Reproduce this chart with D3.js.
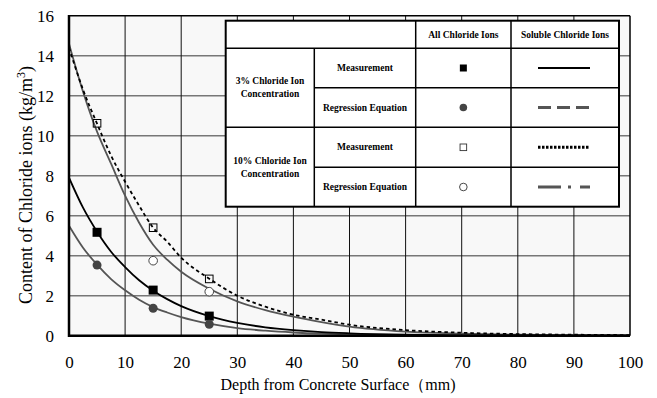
<!DOCTYPE html>
<html><head><meta charset="utf-8">
<script src="https://cdn.jsdelivr.net/npm/d3@7"></script>
<style>
html,body{margin:0;padding:0;background:#fff;}
svg text{font-family:"Liberation Serif","DejaVu Serif",serif !important;fill:#000;}
</style></head>
<body>
<svg id="chart" width="657" height="398" font-family="Liberation Serif"></svg>
<script>
// ---- data ----
const depthTicks = [0,10,20,30,40,50,60,70,80,90,100];
const contentTicks = [0,2,4,6,8,10,12,14,16];
const measureDepths = [5,15,25];
const all3Measured = [5.17,2.28,0.98];
const all3Regression = [3.53,1.37,0.57];
const all10Measured = [10.62,5.40,2.84];
const reg10Depths = [15,25];
const all10Regression = [3.75,2.20];
const curveDepths = [0,2.5,5,7.5,10,12.5,15,17.5,20,25,30,35,40,45,50,60,70,80,90,100];
const sol3Measured = [7.9,6.4,5.2,4.2,3.43,2.77,2.25,1.83,1.48,0.98,0.64,0.42,0.28,0.18,0.12,0.05,0.02,0.01,0.005,0];
const sol3Regression = [5.5,4.4,3.55,2.83,2.27,1.8,1.43,1.16,0.93,0.6,0.38,0.25,0.16,0.1,0.065,0.03,0.01,0.005,0,0];
const sol10Measured = [14.4,12.3,10.6,9.0,7.7,6.5,5.4,4.7,3.9,2.85,2.0,1.45,1.05,0.8,0.55,0.28,0.15,0.08,0.05,0.03];
const sol10Regression = [14.6,12.2,10.2,8.6,7.0,5.65,4.55,3.8,3.2,2.35,1.72,1.28,0.95,0.68,0.45,0.2,0.1,0.05,0.03,0.02];
const legendHeaders = ["All Chloride Ions","Soluble Chloride Ions"];
const legendGroups = [["3% Chloride Ion","Concentration"],["10% Chloride Ion","Concentration"]];
const legendRows = ["Measurement","Regression Equation","Measurement","Regression Equation"];

// ---- layout ----
const FONT = "Liberation Serif";
const svg = d3.select("#chart");
const L = 69, R = 630, T = 15.7, B = 335.7;
const x = d3.scaleLinear().domain([0,100]).range([L,R]);
const y = d3.scaleLinear().domain([0,16]).range([B,T]);

svg.append("rect").attr("x",L).attr("y",T).attr("width",R-L).attr("height",B-T).attr("fill","#f8f8f8");

// gridlines
svg.append("g").selectAll("line").data(contentTicks.filter(d=>d>0&&d<16)).join("line")
  .attr("x1",L).attr("x2",R).attr("y1",d=>y(d)).attr("y2",d=>y(d))
  .attr("stroke","#777").attr("stroke-width",1.6);
svg.append("g").selectAll("line").data(depthTicks.filter(d=>d>0&&d<100)).join("line")
  .attr("y1",T).attr("y2",B).attr("x1",d=>x(d)).attr("x2",d=>x(d))
  .attr("stroke","#111").attr("stroke-width",1);

// axes (labels only)
const xAxis = svg.append("g").attr("transform",`translate(0,${B})`)
  .call(d3.axisBottom(x).tickValues(depthTicks).tickSize(0).tickPadding(20));
xAxis.attr("font-family",FONT);
xAxis.select(".domain").remove();
xAxis.selectAll("text").attr("font-size",17).attr("font-family",FONT);
const yAxis = svg.append("g").attr("transform",`translate(${L},0)`)
  .call(d3.axisLeft(y).tickValues(contentTicks).tickSize(0).tickPadding(15));
yAxis.attr("font-family",FONT);
yAxis.select(".domain").remove();
yAxis.selectAll("text").attr("font-size",17).attr("font-family",FONT);

// curves
svg.append("clipPath").attr("id","pa").append("rect")
  .attr("x",L).attr("y",T).attr("width",R-L).attr("height",B-T);
const line = d3.line().x(d=>x(d[0])).y(d=>y(d[1])).curve(d3.curveMonotoneX);
const curves = [
  {v:sol10Regression, c:"#555", dash:null},
  {v:sol3Regression, c:"#555", dash:null},
  {v:sol3Measured, c:"#000", dash:null},
  {v:sol10Measured, c:"#000", dash:"3.5,3"}
];
const cg = svg.append("g").attr("clip-path","url(#pa)");
curves.forEach(s=>{
  cg.append("path").attr("d",line(curveDepths.map((d,i)=>[d,s.v[i]])))
    .attr("fill","none").attr("stroke",s.c).attr("stroke-width",1.8)
    .attr("stroke-dasharray",s.dash);
});

// markers
const mg = svg.append("g");
mg.selectAll(".fs").data(measureDepths.map((d,i)=>[d,all3Measured[i]])).join("rect")
  .attr("x",d=>x(d[0])-4.5).attr("y",d=>y(d[1])-4.5).attr("width",9).attr("height",9).attr("fill","#000");
mg.selectAll(".fc").data(measureDepths.map((d,i)=>[d,all3Regression[i]])).join("circle")
  .attr("cx",d=>x(d[0])).attr("cy",d=>y(d[1])).attr("r",4.5).attr("fill","#444");
mg.selectAll(".os").data(measureDepths.map((d,i)=>[d,all10Measured[i]])).join("rect")
  .attr("x",d=>x(d[0])-3.8).attr("y",d=>y(d[1])-3.8).attr("width",7.6).attr("height",7.6)
  .attr("fill","none").attr("stroke","#000").attr("stroke-width",1);
mg.selectAll(".oc").data(reg10Depths.map((d,i)=>[d,all10Regression[i]])).join("circle")
  .attr("cx",d=>x(d[0])).attr("cy",d=>y(d[1])).attr("r",4.3)
  .attr("fill","#fff").attr("stroke","#444").attr("stroke-width",1);

// frame
svg.append("line").attr("x1",L).attr("x2",R).attr("y1",T).attr("y2",T).attr("stroke","#000").attr("stroke-width",1.5);
svg.append("line").attr("x1",R).attr("x2",R).attr("y1",T).attr("y2",B).attr("stroke","#000").attr("stroke-width",1.5);
svg.append("line").attr("x1",L).attr("x2",L).attr("y1",T-0.7).attr("y2",B+1.2).attr("stroke","#000").attr("stroke-width",2.5);
svg.append("line").attr("x1",L).attr("x2",R).attr("y1",B).attr("y2",B).attr("stroke","#000").attr("stroke-width",2.5);

// axis titles
svg.append("text").attr("x",338).attr("y",390).attr("text-anchor","middle").attr("font-size",16)
  .attr("font-family",FONT).text("Depth from Concrete Surface（mm)");
const yt = svg.append("text").attr("transform","translate(32,185) rotate(-90)").attr("text-anchor","middle")
  .attr("font-size",18).attr("font-family",FONT);
yt.append("tspan").text("Content of Chloride ions (kg/m");
yt.append("tspan").attr("dy",-7).attr("font-size",12).text("3");
yt.append("tspan").attr("dy",7).text(")");

// legend table
const colX = [225.7,314.3,415.7,511,619];
const rowY = [20.7,48.3,87.7,127.3,167.3,206.7];
const lg = svg.append("g");
lg.append("rect").attr("x",colX[0]).attr("y",rowY[0]).attr("width",colX[4]-colX[0]).attr("height",rowY[5]-rowY[0])
  .attr("fill","#fff").attr("stroke","#000").attr("stroke-width",2);
const seg = (x1,y1,x2,y2)=>lg.append("line").attr("x1",x1).attr("y1",y1).attr("x2",x2).attr("y2",y2).attr("stroke","#000").attr("stroke-width",1.5);
seg(colX[0],rowY[1],colX[4],rowY[1]);
seg(colX[1],rowY[2],colX[4],rowY[2]);
seg(colX[0],rowY[3],colX[4],rowY[3]);
seg(colX[1],rowY[4],colX[4],rowY[4]);
seg(colX[1],rowY[1],colX[1],rowY[5]);
seg(colX[2],rowY[0],colX[2],rowY[5]);
seg(colX[3],rowY[0],colX[3],rowY[5]);
const tt = (tx,ty,s)=>lg.append("text").attr("x",tx).attr("y",ty).attr("text-anchor","middle")
  .attr("dominant-baseline","central").attr("font-size",9.5).attr("font-weight","bold").attr("font-family",FONT).text(s);
legendHeaders.forEach((h,i)=>tt((colX[2+i]+colX[3+i])/2,(rowY[0]+rowY[1])/2,h));
legendGroups.forEach((g,i)=>{
  const cy = (rowY[1+2*i]+rowY[3+2*i])/2;
  tt((colX[0]+colX[1])/2,cy-6.5,g[0]);
  tt((colX[0]+colX[1])/2,cy+6.5,g[1]);
});
legendRows.forEach((r,i)=>tt((colX[1]+colX[2])/2,(rowY[1+i]+rowY[2+i])/2,r));
const sx = (colX[2]+colX[3])/2, lx1 = 538, lx2 = 590;
const cyRow = i=>(rowY[1+i]+rowY[2+i])/2;
lg.append("rect").attr("x",sx-3.5).attr("y",cyRow(0)-3.5).attr("width",7).attr("height",7).attr("fill","#000");
lg.append("circle").attr("cx",sx).attr("cy",cyRow(1)).attr("r",3.8).attr("fill","#444");
lg.append("rect").attr("x",sx-3.3).attr("y",cyRow(2)-3.3).attr("width",6.6).attr("height",6.6).attr("fill","none").attr("stroke","#333").attr("stroke-width",0.9);
lg.append("circle").attr("cx",sx).attr("cy",cyRow(3)).attr("r",3.8).attr("fill","#fff").attr("stroke","#333").attr("stroke-width",0.9);
const lstyles = [{c:"#000",w:2.2,d:null},{c:"#555",w:3,d:"13,6"},{c:"#000",w:3,d:"2.5,1.5"},{c:"#555",w:3,d:"23,7,3,9"}];
lstyles.forEach((s,i)=>lg.append("line").attr("x1",lx1).attr("x2",lx2).attr("y1",cyRow(i)).attr("y2",cyRow(i))
  .attr("stroke",s.c).attr("stroke-width",s.w).attr("stroke-dasharray",s.d));
</script>
</body></html>
